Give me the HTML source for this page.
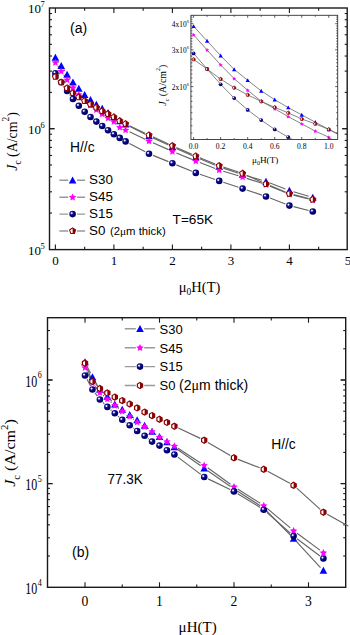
<!DOCTYPE html>
<html><head><meta charset="utf-8"><style>html,body{margin:0;padding:0;background:#fff;overflow:hidden}svg{display:block}text{fill:#000}</style></head>
<body>
<svg width="350" height="635" viewBox="0 0 350 635">
<defs><radialGradient id="sph" cx="0.36" cy="0.36" r="0.7" fx="0.36" fy="0.36"><stop offset="0" stop-color="#ffffff"/><stop offset="0.12" stop-color="#e0e0f4"/><stop offset="0.3" stop-color="#1a1a90"/><stop offset="0.6" stop-color="#000080"/><stop offset="1" stop-color="#000050"/></radialGradient></defs>
<rect width="350" height="635" fill="#fff"/>
<line x1="55.40" y1="249.60" x2="55.40" y2="244.60" stroke="#1a1a1a" stroke-width="1.1"/>
<line x1="55.40" y1="8.00" x2="55.40" y2="13.00" stroke="#1a1a1a" stroke-width="1.1"/>
<line x1="84.65" y1="249.60" x2="84.65" y2="246.80" stroke="#1a1a1a" stroke-width="1.1"/>
<line x1="84.65" y1="8.00" x2="84.65" y2="10.80" stroke="#1a1a1a" stroke-width="1.1"/>
<line x1="113.90" y1="249.60" x2="113.90" y2="244.60" stroke="#1a1a1a" stroke-width="1.1"/>
<line x1="113.90" y1="8.00" x2="113.90" y2="13.00" stroke="#1a1a1a" stroke-width="1.1"/>
<line x1="143.15" y1="249.60" x2="143.15" y2="246.80" stroke="#1a1a1a" stroke-width="1.1"/>
<line x1="143.15" y1="8.00" x2="143.15" y2="10.80" stroke="#1a1a1a" stroke-width="1.1"/>
<line x1="172.40" y1="249.60" x2="172.40" y2="244.60" stroke="#1a1a1a" stroke-width="1.1"/>
<line x1="172.40" y1="8.00" x2="172.40" y2="13.00" stroke="#1a1a1a" stroke-width="1.1"/>
<line x1="201.65" y1="249.60" x2="201.65" y2="246.80" stroke="#1a1a1a" stroke-width="1.1"/>
<line x1="201.65" y1="8.00" x2="201.65" y2="10.80" stroke="#1a1a1a" stroke-width="1.1"/>
<line x1="230.90" y1="249.60" x2="230.90" y2="244.60" stroke="#1a1a1a" stroke-width="1.1"/>
<line x1="230.90" y1="8.00" x2="230.90" y2="13.00" stroke="#1a1a1a" stroke-width="1.1"/>
<line x1="260.15" y1="249.60" x2="260.15" y2="246.80" stroke="#1a1a1a" stroke-width="1.1"/>
<line x1="260.15" y1="8.00" x2="260.15" y2="10.80" stroke="#1a1a1a" stroke-width="1.1"/>
<line x1="289.40" y1="249.60" x2="289.40" y2="244.60" stroke="#1a1a1a" stroke-width="1.1"/>
<line x1="289.40" y1="8.00" x2="289.40" y2="13.00" stroke="#1a1a1a" stroke-width="1.1"/>
<line x1="318.65" y1="249.60" x2="318.65" y2="246.80" stroke="#1a1a1a" stroke-width="1.1"/>
<line x1="318.65" y1="8.00" x2="318.65" y2="10.80" stroke="#1a1a1a" stroke-width="1.1"/>
<line x1="49.50" y1="213.07" x2="52.00" y2="213.07" stroke="#1a1a1a" stroke-width="1.1"/>
<line x1="347.20" y1="213.07" x2="344.70" y2="213.07" stroke="#1a1a1a" stroke-width="1.1"/>
<line x1="49.50" y1="191.81" x2="52.00" y2="191.81" stroke="#1a1a1a" stroke-width="1.1"/>
<line x1="347.20" y1="191.81" x2="344.70" y2="191.81" stroke="#1a1a1a" stroke-width="1.1"/>
<line x1="49.50" y1="176.73" x2="52.00" y2="176.73" stroke="#1a1a1a" stroke-width="1.1"/>
<line x1="347.20" y1="176.73" x2="344.70" y2="176.73" stroke="#1a1a1a" stroke-width="1.1"/>
<line x1="49.50" y1="165.03" x2="52.00" y2="165.03" stroke="#1a1a1a" stroke-width="1.1"/>
<line x1="347.20" y1="165.03" x2="344.70" y2="165.03" stroke="#1a1a1a" stroke-width="1.1"/>
<line x1="49.50" y1="155.48" x2="52.00" y2="155.48" stroke="#1a1a1a" stroke-width="1.1"/>
<line x1="347.20" y1="155.48" x2="344.70" y2="155.48" stroke="#1a1a1a" stroke-width="1.1"/>
<line x1="49.50" y1="147.40" x2="52.00" y2="147.40" stroke="#1a1a1a" stroke-width="1.1"/>
<line x1="347.20" y1="147.40" x2="344.70" y2="147.40" stroke="#1a1a1a" stroke-width="1.1"/>
<line x1="49.50" y1="140.40" x2="52.00" y2="140.40" stroke="#1a1a1a" stroke-width="1.1"/>
<line x1="347.20" y1="140.40" x2="344.70" y2="140.40" stroke="#1a1a1a" stroke-width="1.1"/>
<line x1="49.50" y1="134.22" x2="52.00" y2="134.22" stroke="#1a1a1a" stroke-width="1.1"/>
<line x1="347.20" y1="134.22" x2="344.70" y2="134.22" stroke="#1a1a1a" stroke-width="1.1"/>
<line x1="49.50" y1="128.70" x2="54.50" y2="128.70" stroke="#1a1a1a" stroke-width="1.1"/>
<line x1="347.20" y1="128.70" x2="342.20" y2="128.70" stroke="#1a1a1a" stroke-width="1.1"/>
<line x1="49.50" y1="128.70" x2="54.50" y2="128.70" stroke="#1a1a1a" stroke-width="1.1"/>
<line x1="347.20" y1="128.70" x2="342.20" y2="128.70" stroke="#1a1a1a" stroke-width="1.1"/>
<line x1="49.50" y1="92.37" x2="52.00" y2="92.37" stroke="#1a1a1a" stroke-width="1.1"/>
<line x1="347.20" y1="92.37" x2="344.70" y2="92.37" stroke="#1a1a1a" stroke-width="1.1"/>
<line x1="49.50" y1="71.11" x2="52.00" y2="71.11" stroke="#1a1a1a" stroke-width="1.1"/>
<line x1="347.20" y1="71.11" x2="344.70" y2="71.11" stroke="#1a1a1a" stroke-width="1.1"/>
<line x1="49.50" y1="56.03" x2="52.00" y2="56.03" stroke="#1a1a1a" stroke-width="1.1"/>
<line x1="347.20" y1="56.03" x2="344.70" y2="56.03" stroke="#1a1a1a" stroke-width="1.1"/>
<line x1="49.50" y1="44.33" x2="52.00" y2="44.33" stroke="#1a1a1a" stroke-width="1.1"/>
<line x1="347.20" y1="44.33" x2="344.70" y2="44.33" stroke="#1a1a1a" stroke-width="1.1"/>
<line x1="49.50" y1="34.78" x2="52.00" y2="34.78" stroke="#1a1a1a" stroke-width="1.1"/>
<line x1="347.20" y1="34.78" x2="344.70" y2="34.78" stroke="#1a1a1a" stroke-width="1.1"/>
<line x1="49.50" y1="26.70" x2="52.00" y2="26.70" stroke="#1a1a1a" stroke-width="1.1"/>
<line x1="347.20" y1="26.70" x2="344.70" y2="26.70" stroke="#1a1a1a" stroke-width="1.1"/>
<line x1="49.50" y1="19.70" x2="52.00" y2="19.70" stroke="#1a1a1a" stroke-width="1.1"/>
<line x1="347.20" y1="19.70" x2="344.70" y2="19.70" stroke="#1a1a1a" stroke-width="1.1"/>
<line x1="49.50" y1="13.52" x2="52.00" y2="13.52" stroke="#1a1a1a" stroke-width="1.1"/>
<line x1="347.20" y1="13.52" x2="344.70" y2="13.52" stroke="#1a1a1a" stroke-width="1.1"/>
<rect x="49.5" y="8.0" width="297.7" height="241.6" fill="none" stroke="#1a1a1a" stroke-width="1.4"/>
<text x="55.4" y="265.4" font-family='"Liberation Serif", serif' font-size="13" text-anchor="middle" >0</text>
<text x="113.9" y="265.4" font-family='"Liberation Serif", serif' font-size="13" text-anchor="middle" >1</text>
<text x="172.4" y="265.4" font-family='"Liberation Serif", serif' font-size="13" text-anchor="middle" >2</text>
<text x="230.9" y="265.4" font-family='"Liberation Serif", serif' font-size="13" text-anchor="middle" >3</text>
<text x="289.4" y="265.4" font-family='"Liberation Serif", serif' font-size="13" text-anchor="middle" >4</text>
<text x="347.9" y="265.4" font-family='"Liberation Serif", serif' font-size="13" text-anchor="middle" >5</text>
<text x="28.0" y="13" font-family='"Liberation Serif", serif' font-size="13" text-anchor="start" >10</text>
<text x="40.6" y="6.7" font-family='"Liberation Serif", serif' font-size="8.5" text-anchor="start" >7</text>
<text x="28.0" y="133.9" font-family='"Liberation Serif", serif' font-size="13" text-anchor="start" >10</text>
<text x="40.6" y="127.60000000000001" font-family='"Liberation Serif", serif' font-size="8.5" text-anchor="start" >6</text>
<text x="28.0" y="254.9" font-family='"Liberation Serif", serif' font-size="13" text-anchor="start" >10</text>
<text x="40.6" y="248.6" font-family='"Liberation Serif", serif' font-size="8.5" text-anchor="start" >5</text>
<text transform="translate(16.5,170.8) rotate(-90) scale(0.93,1)" font-family='"Liberation Serif", serif' font-size="15"><tspan font-style="italic">J</tspan><tspan font-size="10" dy="4.6">c</tspan><tspan dy="-4.6"> (A/cm</tspan><tspan font-size="10" dy="-7.3">2</tspan><tspan dy="7.3">)</tspan></text>
<text x="178.8" y="291.8" font-family='"Liberation Serif", serif' font-size="14.5">μ<tspan font-size="9.5" dy="3">0</tspan><tspan dy="-3">H(T)</tspan></text>
<text x="70" y="33.3" font-family='"Liberation Sans", sans-serif' font-size="14" text-anchor="start" >(a)</text>
<text x="70" y="151.7" font-family='"Liberation Sans", sans-serif' font-size="13.8" text-anchor="start" >H//c</text>
<text x="172.6" y="223.6" font-family='"Liberation Sans", sans-serif' font-size="13.6" text-anchor="start" >T=65K</text>
<g>
<path d="M57.85,61.07L58.80,62.43M63.68,69.51L64.67,70.96M69.66,77.97L70.39,78.97M129.43,126.25L145.17,134.25M152.92,137.97L168.48,145.03M176.33,148.55L191.87,155.45M199.78,158.83L215.22,165.17M223.28,168.16L238.52,173.24M246.72,175.82L261.88,180.28M270.01,183.04L285.39,188.96M293.52,191.73L308.68,196.27" fill="none" stroke="#666" stroke-width="1.15"/>
<path d="M57.80,66.07L58.85,67.65M63.67,74.78L64.68,76.27M69.66,83.28L70.39,84.28M129.49,131.83L145.11,139.17M152.93,142.75L168.47,149.65M176.38,153.03L191.82,159.37M199.81,162.54L215.19,168.46M223.32,171.23L238.48,175.77M246.69,178.33L261.91,183.27M269.98,186.23L285.42,192.57M293.57,195.25L308.63,199.05" fill="none" stroke="#666" stroke-width="1.15"/>
<path d="M57.74,76.79L58.91,78.59M63.62,85.78L64.73,87.44M69.64,94.49L70.41,95.53M129.40,143.41L145.20,151.79M152.99,155.40L168.41,161.60M176.37,164.85L191.83,171.25M199.87,174.29L215.13,179.51M223.28,182.24L238.52,187.26M246.67,189.98L261.93,195.12M270.01,198.06L285.39,204.04M293.57,206.65L308.63,210.45" fill="none" stroke="#666" stroke-width="1.15"/>
<path d="M129.47,125.67L145.13,133.23M152.92,136.87L168.48,143.93M176.33,147.45L191.87,154.35M199.78,157.73L215.22,164.07M223.28,167.04L238.52,172.06M246.52,175.17L262.08,182.23M269.98,185.63L285.42,191.97M293.57,194.65L308.63,198.45" fill="none" stroke="#666" stroke-width="1.15"/>
<path d="M55.40,53.69L59.20,60.68L51.60,60.68Z" fill="#0000ff"/>
<path d="M61.25,62.12L65.05,69.11L57.45,69.11Z" fill="#0000ff"/>
<path d="M67.10,70.67L70.90,77.66L63.30,77.66Z" fill="#0000ff"/>
<path d="M72.95,78.58L76.75,85.57L69.15,85.57Z" fill="#0000ff"/>
<path d="M78.80,84.87L82.60,91.86L75.00,91.86Z" fill="#0000ff"/>
<path d="M84.65,90.99L88.45,97.99L80.85,97.99Z" fill="#0000ff"/>
<path d="M90.50,96.08L94.30,103.07L86.70,103.07Z" fill="#0000ff"/>
<path d="M96.35,100.64L100.15,107.63L92.55,107.63Z" fill="#0000ff"/>
<path d="M102.20,104.85L106.00,111.85L98.40,111.85Z" fill="#0000ff"/>
<path d="M108.05,109.07L111.85,116.06L104.25,116.06Z" fill="#0000ff"/>
<path d="M113.90,113.23L117.70,120.22L110.10,120.22Z" fill="#0000ff"/>
<path d="M119.75,117.35L123.55,124.35L115.95,124.35Z" fill="#0000ff"/>
<path d="M125.60,120.45L129.40,127.45L121.80,127.45Z" fill="#0000ff"/>
<path d="M149.00,132.35L152.80,139.35L145.20,139.35Z" fill="#0000ff"/>
<path d="M172.40,142.95L176.20,149.95L168.60,149.95Z" fill="#0000ff"/>
<path d="M195.80,153.35L199.60,160.35L192.00,160.35Z" fill="#0000ff"/>
<path d="M219.20,162.95L223.00,169.95L215.40,169.95Z" fill="#0000ff"/>
<path d="M242.60,170.75L246.40,177.75L238.80,177.75Z" fill="#0000ff"/>
<path d="M266.00,177.65L269.80,184.65L262.20,184.65Z" fill="#0000ff"/>
<path d="M289.40,186.65L293.20,193.65L285.60,193.65Z" fill="#0000ff"/>
<path d="M312.80,193.65L316.60,200.65L309.00,200.65Z" fill="#0000ff"/>
<polygon points="55.40,58.75 56.50,61.14 59.11,61.44 57.18,63.23 57.69,65.80 55.40,64.52 53.11,65.80 53.62,63.23 51.69,61.44 54.30,61.14" fill="#ff00ff"/>
<polygon points="61.25,67.47 62.35,69.86 64.96,70.16 63.03,71.95 63.54,74.53 61.25,73.24 58.96,74.53 59.47,71.95 57.54,70.16 60.15,69.86" fill="#ff00ff"/>
<polygon points="67.10,76.07 68.20,78.46 70.81,78.77 68.88,80.55 69.39,83.13 67.10,81.85 64.81,83.13 65.32,80.55 63.39,78.77 66.00,78.46" fill="#ff00ff"/>
<polygon points="72.95,83.99 74.05,86.37 76.66,86.68 74.73,88.47 75.24,91.04 72.95,89.76 70.66,91.04 71.17,88.47 69.24,86.68 71.85,86.37" fill="#ff00ff"/>
<polygon points="78.80,90.74 79.90,93.13 82.51,93.44 80.58,95.22 81.09,97.80 78.80,96.52 76.51,97.80 77.02,95.22 75.09,93.44 77.70,93.13" fill="#ff00ff"/>
<polygon points="84.65,97.04 85.75,99.42 88.36,99.73 86.43,101.52 86.94,104.09 84.65,102.81 82.36,104.09 82.87,101.52 80.94,99.73 83.55,99.42" fill="#ff00ff"/>
<polygon points="90.50,101.43 91.60,103.81 94.21,104.12 92.28,105.91 92.79,108.48 90.50,107.20 88.21,108.48 88.72,105.91 86.79,104.12 89.40,103.81" fill="#ff00ff"/>
<polygon points="96.35,105.93 97.45,108.32 100.06,108.63 98.13,110.41 98.64,112.99 96.35,111.70 94.06,112.99 94.57,110.41 92.64,108.63 95.25,108.32" fill="#ff00ff"/>
<polygon points="102.20,110.15 103.30,112.53 105.91,112.84 103.98,114.63 104.49,117.20 102.20,115.92 99.91,117.20 100.42,114.63 98.49,112.84 101.10,112.53" fill="#ff00ff"/>
<polygon points="108.05,114.31 109.15,116.69 111.76,117.00 109.83,118.78 110.34,121.36 108.05,120.08 105.76,121.36 106.27,118.78 104.34,117.00 106.95,116.69" fill="#ff00ff"/>
<polygon points="113.90,117.83 115.00,120.21 117.61,120.52 115.68,122.31 116.19,124.88 113.90,123.60 111.61,124.88 112.12,122.31 110.19,120.52 112.80,120.21" fill="#ff00ff"/>
<polygon points="119.75,123.55 120.85,125.94 123.46,126.24 121.53,128.03 122.04,130.61 119.75,129.32 117.46,130.61 117.97,128.03 116.04,126.24 118.65,125.94" fill="#ff00ff"/>
<polygon points="125.60,126.25 126.70,128.64 129.31,128.94 127.38,130.73 127.89,133.31 125.60,132.02 123.31,133.31 123.82,130.73 121.89,128.94 124.50,128.64" fill="#ff00ff"/>
<polygon points="149.00,137.25 150.10,139.64 152.71,139.94 150.78,141.73 151.29,144.31 149.00,143.02 146.71,144.31 147.22,141.73 145.29,139.94 147.90,139.64" fill="#ff00ff"/>
<polygon points="172.40,147.65 173.50,150.04 176.11,150.34 174.18,152.13 174.69,154.71 172.40,153.42 170.11,154.71 170.62,152.13 168.69,150.34 171.30,150.04" fill="#ff00ff"/>
<polygon points="195.80,157.25 196.90,159.64 199.51,159.94 197.58,161.73 198.09,164.31 195.80,163.02 193.51,164.31 194.02,161.73 192.09,159.94 194.70,159.64" fill="#ff00ff"/>
<polygon points="219.20,166.25 220.30,168.64 222.91,168.94 220.98,170.73 221.49,173.31 219.20,172.02 216.91,173.31 217.42,170.73 215.49,168.94 218.10,168.64" fill="#ff00ff"/>
<polygon points="242.60,173.25 243.70,175.64 246.31,175.94 244.38,177.73 244.89,180.31 242.60,179.02 240.31,180.31 240.82,177.73 238.89,175.94 241.50,175.64" fill="#ff00ff"/>
<polygon points="266.00,180.85 267.10,183.24 269.71,183.54 267.78,185.33 268.29,187.91 266.00,186.62 263.71,187.91 264.22,185.33 262.29,183.54 264.90,183.24" fill="#ff00ff"/>
<polygon points="289.40,190.45 290.50,192.84 293.11,193.14 291.18,194.93 291.69,197.51 289.40,196.22 287.11,197.51 287.62,194.93 285.69,193.14 288.30,192.84" fill="#ff00ff"/>
<polygon points="312.80,196.35 313.90,198.74 316.51,199.04 314.58,200.83 315.09,203.41 312.80,202.12 310.51,203.41 311.02,200.83 309.09,199.04 311.70,198.74" fill="#ff00ff"/>
<circle cx="55.40" cy="73.18" r="3.3" fill="url(#sph)"/>
<circle cx="61.25" cy="82.19" r="3.3" fill="url(#sph)"/>
<circle cx="67.10" cy="91.03" r="3.3" fill="url(#sph)"/>
<circle cx="72.95" cy="99.00" r="3.3" fill="url(#sph)"/>
<circle cx="78.80" cy="105.81" r="3.3" fill="url(#sph)"/>
<circle cx="84.65" cy="111.70" r="3.3" fill="url(#sph)"/>
<circle cx="90.50" cy="117.07" r="3.3" fill="url(#sph)"/>
<circle cx="96.35" cy="121.58" r="3.3" fill="url(#sph)"/>
<circle cx="102.20" cy="126.00" r="3.3" fill="url(#sph)"/>
<circle cx="108.05" cy="130.20" r="3.3" fill="url(#sph)"/>
<circle cx="113.90" cy="134.20" r="3.3" fill="url(#sph)"/>
<circle cx="119.75" cy="137.90" r="3.3" fill="url(#sph)"/>
<circle cx="125.60" cy="141.40" r="3.3" fill="url(#sph)"/>
<circle cx="149.00" cy="153.80" r="3.3" fill="url(#sph)"/>
<circle cx="172.40" cy="163.20" r="3.3" fill="url(#sph)"/>
<circle cx="195.80" cy="172.90" r="3.3" fill="url(#sph)"/>
<circle cx="219.20" cy="180.90" r="3.3" fill="url(#sph)"/>
<circle cx="242.60" cy="188.60" r="3.3" fill="url(#sph)"/>
<circle cx="266.00" cy="196.50" r="3.3" fill="url(#sph)"/>
<circle cx="289.40" cy="205.60" r="3.3" fill="url(#sph)"/>
<circle cx="312.80" cy="211.50" r="3.3" fill="url(#sph)"/>
<polygon points="55.40,73.50 58.40,75.68 57.25,79.20 53.55,79.20 52.40,75.68" fill="#fff" stroke="#8b0000" stroke-width="1.05"/><polygon points="55.40,73.50 58.40,75.68 57.25,79.20 55.40,79.20" fill="#8b0000"/>
<polygon points="61.25,79.10 64.25,81.28 63.10,84.80 59.40,84.80 58.25,81.28" fill="#fff" stroke="#8b0000" stroke-width="1.05"/><polygon points="61.25,79.10 64.25,81.28 63.10,84.80 61.25,84.80" fill="#8b0000"/>
<polygon points="67.10,84.88 70.10,87.05 68.95,90.57 65.25,90.57 64.10,87.05" fill="#fff" stroke="#8b0000" stroke-width="1.05"/><polygon points="67.10,84.88 70.10,87.05 68.95,90.57 67.10,90.57" fill="#8b0000"/>
<polygon points="72.95,89.84 75.95,92.02 74.80,95.54 71.10,95.54 69.95,92.02" fill="#fff" stroke="#8b0000" stroke-width="1.05"/><polygon points="72.95,89.84 75.95,92.02 74.80,95.54 72.95,95.54" fill="#8b0000"/>
<polygon points="78.80,94.00 81.80,96.18 80.65,99.70 76.95,99.70 75.80,96.18" fill="#fff" stroke="#8b0000" stroke-width="1.05"/><polygon points="78.80,94.00 81.80,96.18 80.65,99.70 78.80,99.70" fill="#8b0000"/>
<polygon points="84.65,97.75 87.65,99.93 86.50,103.45 82.80,103.45 81.65,99.93" fill="#fff" stroke="#8b0000" stroke-width="1.05"/><polygon points="84.65,97.75 87.65,99.93 86.50,103.45 84.65,103.45" fill="#8b0000"/>
<polygon points="90.50,101.16 93.50,103.34 92.35,106.86 88.65,106.86 87.50,103.34" fill="#fff" stroke="#8b0000" stroke-width="1.05"/><polygon points="90.50,101.16 93.50,103.34 92.35,106.86 90.50,106.86" fill="#8b0000"/>
<polygon points="96.35,104.40 99.35,106.57 98.20,110.09 94.50,110.09 93.35,106.57" fill="#fff" stroke="#8b0000" stroke-width="1.05"/><polygon points="96.35,104.40 99.35,106.57 98.20,110.09 96.35,110.09" fill="#8b0000"/>
<polygon points="102.20,107.92 105.20,110.09 104.05,113.62 100.35,113.62 99.20,110.09" fill="#fff" stroke="#8b0000" stroke-width="1.05"/><polygon points="102.20,107.92 105.20,110.09 104.05,113.62 102.20,113.62" fill="#8b0000"/>
<polygon points="108.05,110.75 111.05,112.92 109.90,116.45 106.20,116.45 105.05,112.92" fill="#fff" stroke="#8b0000" stroke-width="1.05"/><polygon points="108.05,110.75 111.05,112.92 109.90,116.45 108.05,116.45" fill="#8b0000"/>
<polygon points="113.90,113.92 116.90,116.10 115.75,119.62 112.05,119.62 110.90,116.10" fill="#fff" stroke="#8b0000" stroke-width="1.05"/><polygon points="113.90,113.92 116.90,116.10 115.75,119.62 113.90,119.62" fill="#8b0000"/>
<polygon points="119.75,117.75 122.75,119.93 121.60,123.45 117.90,123.45 116.75,119.93" fill="#fff" stroke="#8b0000" stroke-width="1.05"/><polygon points="119.75,117.75 122.75,119.93 121.60,123.45 119.75,123.45" fill="#8b0000"/>
<polygon points="125.60,120.65 128.60,122.83 127.45,126.35 123.75,126.35 122.60,122.83" fill="#fff" stroke="#8b0000" stroke-width="1.05"/><polygon points="125.60,120.65 128.60,122.83 127.45,126.35 125.60,126.35" fill="#8b0000"/>
<polygon points="149.00,131.95 152.00,134.13 150.85,137.65 147.15,137.65 146.00,134.13" fill="#fff" stroke="#8b0000" stroke-width="1.05"/><polygon points="149.00,131.95 152.00,134.13 150.85,137.65 149.00,137.65" fill="#8b0000"/>
<polygon points="172.40,142.55 175.40,144.73 174.25,148.25 170.55,148.25 169.40,144.73" fill="#fff" stroke="#8b0000" stroke-width="1.05"/><polygon points="172.40,142.55 175.40,144.73 174.25,148.25 172.40,148.25" fill="#8b0000"/>
<polygon points="195.80,152.95 198.80,155.13 197.65,158.65 193.95,158.65 192.80,155.13" fill="#fff" stroke="#8b0000" stroke-width="1.05"/><polygon points="195.80,152.95 198.80,155.13 197.65,158.65 195.80,158.65" fill="#8b0000"/>
<polygon points="219.20,162.55 222.20,164.73 221.05,168.25 217.35,168.25 216.20,164.73" fill="#fff" stroke="#8b0000" stroke-width="1.05"/><polygon points="219.20,162.55 222.20,164.73 221.05,168.25 219.20,168.25" fill="#8b0000"/>
<polygon points="242.60,170.25 245.60,172.43 244.45,175.95 240.75,175.95 239.60,172.43" fill="#fff" stroke="#8b0000" stroke-width="1.05"/><polygon points="242.60,170.25 245.60,172.43 244.45,175.95 242.60,175.95" fill="#8b0000"/>
<polygon points="266.00,180.85 269.00,183.03 267.85,186.55 264.15,186.55 263.00,183.03" fill="#fff" stroke="#8b0000" stroke-width="1.05"/><polygon points="266.00,180.85 269.00,183.03 267.85,186.55 266.00,186.55" fill="#8b0000"/>
<polygon points="289.40,190.45 292.40,192.63 291.25,196.15 287.55,196.15 286.40,192.63" fill="#fff" stroke="#8b0000" stroke-width="1.05"/><polygon points="289.40,190.45 292.40,192.63 291.25,196.15 289.40,196.15" fill="#8b0000"/>
<polygon points="312.80,196.35 315.80,198.53 314.65,202.05 310.95,202.05 309.80,198.53" fill="#fff" stroke="#8b0000" stroke-width="1.05"/><polygon points="312.80,196.35 315.80,198.53 314.65,202.05 312.80,202.05" fill="#8b0000"/>
</g>
<path d="M59.4,180.30H68.2M77.0,180.30H85.1" stroke="#999" stroke-width="1.4"/>
<path d="M72.60,176.45L76.40,183.45L68.80,183.45Z" fill="#0000ff"/>
<text x="89" y="183.8" font-family='"Liberation Sans", sans-serif' font-size="13.4" text-anchor="start" >S30</text>
<path d="M59.4,197.20H68.2M77.0,197.20H85.1" stroke="#999" stroke-width="1.4"/>
<polygon points="72.60,193.45 73.70,195.84 76.31,196.14 74.38,197.93 74.89,200.51 72.60,199.22 70.31,200.51 70.82,197.93 68.89,196.14 71.50,195.84" fill="#ff00ff"/>
<text x="89" y="200.70000000000002" font-family='"Liberation Sans", sans-serif' font-size="13.4" text-anchor="start" >S45</text>
<path d="M59.4,214.10H68.2M77.0,214.10H85.1" stroke="#999" stroke-width="1.4"/>
<circle cx="72.60" cy="214.10" r="3.3" fill="url(#sph)"/>
<text x="89" y="217.60000000000002" font-family='"Liberation Sans", sans-serif' font-size="13.4" text-anchor="start" >S15</text>
<path d="M59.4,231.00H68.2M77.0,231.00H85.1" stroke="#999" stroke-width="1.4"/>
<polygon points="72.60,227.85 75.60,230.03 74.45,233.55 70.75,233.55 69.60,230.03" fill="#fff" stroke="#8b0000" stroke-width="1.05"/><polygon points="72.60,227.85 75.60,230.03 74.45,233.55 72.60,233.55" fill="#8b0000"/>
<text x="89" y="234.5" font-family='"Liberation Sans", sans-serif' font-size="13.4" text-anchor="start" >S0</text>
<text x="110" y="234.6" font-family='"Liberation Sans", sans-serif' font-size="11.3" text-anchor="start" >(2<tspan font-family="Liberation Serif, serif">μ</tspan>m thick)</text>
<rect x="190.9" y="15.3" width="146.79999999999998" height="124.2" fill="#fff"/>
<clipPath id="inclip"><rect x="190.9" y="15.3" width="146.79999999999998" height="124.2"/></clipPath>
<g clip-path="url(#inclip)">
<polyline points="193.60,26.30 207.12,40.90 220.64,55.70 234.16,69.40 247.68,80.30 261.20,90.90 274.72,99.70 288.24,107.60 301.76,114.90 315.28,122.20 328.80,129.40 342.32,136.54 355.84,141.91" fill="none" stroke="#666" stroke-width="0.8"/>
<polyline points="193.60,34.90 207.12,50.00 220.64,64.90 234.16,78.60 247.68,90.30 261.20,101.20 274.72,108.80 288.24,116.60 301.76,123.90 315.28,131.10 328.80,137.20 342.32,147.11 355.84,151.78" fill="none" stroke="#666" stroke-width="0.8"/>
<polyline points="193.60,53.40 207.12,69.00 220.64,84.30 234.16,98.10 247.68,109.90 261.20,120.10 274.72,129.40 288.24,137.20 301.76,144.86 315.28,152.13 328.80,159.05 342.32,165.46 355.84,171.52" fill="none" stroke="#666" stroke-width="0.8"/>
<polyline points="193.60,59.40 207.12,69.10 220.64,79.10 234.16,87.70 247.68,94.90 261.20,101.40 274.72,107.30 288.24,112.90 301.76,119.00 315.28,123.90 328.80,129.40 342.32,136.02 355.84,141.05" fill="none" stroke="#666" stroke-width="0.8"/>
<path d="M193.60,24.17L195.70,28.04L191.50,28.04Z" fill="#0000ff"/>
<path d="M207.12,38.77L209.22,42.64L205.02,42.64Z" fill="#0000ff"/>
<path d="M220.64,53.57L222.74,57.44L218.54,57.44Z" fill="#0000ff"/>
<path d="M234.16,67.27L236.26,71.14L232.06,71.14Z" fill="#0000ff"/>
<path d="M247.68,78.17L249.78,82.04L245.58,82.04Z" fill="#0000ff"/>
<path d="M261.20,88.77L263.30,92.64L259.10,92.64Z" fill="#0000ff"/>
<path d="M274.72,97.57L276.82,101.44L272.62,101.44Z" fill="#0000ff"/>
<path d="M288.24,105.47L290.34,109.34L286.14,109.34Z" fill="#0000ff"/>
<path d="M301.76,112.77L303.86,116.64L299.66,116.64Z" fill="#0000ff"/>
<path d="M315.28,120.07L317.38,123.94L313.18,123.94Z" fill="#0000ff"/>
<path d="M328.80,127.27L330.90,131.14L326.70,131.14Z" fill="#0000ff"/>
<polygon points="193.60,32.85 194.22,34.20 195.69,34.37 194.60,35.38 194.89,36.83 193.60,36.11 192.31,36.83 192.60,35.38 191.51,34.37 192.98,34.20" fill="#ff00ff"/>
<polygon points="207.12,47.95 207.74,49.30 209.21,49.47 208.12,50.48 208.41,51.93 207.12,51.21 205.83,51.93 206.12,50.48 205.03,49.47 206.50,49.30" fill="#ff00ff"/>
<polygon points="220.64,62.85 221.26,64.20 222.73,64.37 221.64,65.38 221.93,66.83 220.64,66.11 219.35,66.83 219.64,65.38 218.55,64.37 220.02,64.20" fill="#ff00ff"/>
<polygon points="234.16,76.55 234.78,77.90 236.25,78.07 235.16,79.08 235.45,80.53 234.16,79.81 232.87,80.53 233.16,79.08 232.07,78.07 233.54,77.90" fill="#ff00ff"/>
<polygon points="247.68,88.25 248.30,89.60 249.77,89.77 248.68,90.78 248.97,92.23 247.68,91.51 246.39,92.23 246.68,90.78 245.59,89.77 247.06,89.60" fill="#ff00ff"/>
<polygon points="261.20,99.15 261.82,100.50 263.29,100.67 262.20,101.68 262.49,103.13 261.20,102.41 259.91,103.13 260.20,101.68 259.11,100.67 260.58,100.50" fill="#ff00ff"/>
<polygon points="274.72,106.75 275.34,108.10 276.81,108.27 275.72,109.28 276.01,110.73 274.72,110.01 273.43,110.73 273.72,109.28 272.63,108.27 274.10,108.10" fill="#ff00ff"/>
<polygon points="288.24,114.55 288.86,115.90 290.33,116.07 289.24,117.08 289.53,118.53 288.24,117.81 286.95,118.53 287.24,117.08 286.15,116.07 287.62,115.90" fill="#ff00ff"/>
<polygon points="301.76,121.85 302.38,123.20 303.85,123.37 302.76,124.38 303.05,125.83 301.76,125.11 300.47,125.83 300.76,124.38 299.67,123.37 301.14,123.20" fill="#ff00ff"/>
<polygon points="315.28,129.05 315.90,130.40 317.37,130.57 316.28,131.58 316.57,133.03 315.28,132.31 313.99,133.03 314.28,131.58 313.19,130.57 314.66,130.40" fill="#ff00ff"/>
<polygon points="328.80,135.15 329.42,136.50 330.89,136.67 329.80,137.68 330.09,139.13 328.80,138.41 327.51,139.13 327.80,137.68 326.71,136.67 328.18,136.50" fill="#ff00ff"/>
<circle cx="193.60" cy="53.40" r="1.9" fill="url(#sph)"/>
<circle cx="207.12" cy="69.00" r="1.9" fill="url(#sph)"/>
<circle cx="220.64" cy="84.30" r="1.9" fill="url(#sph)"/>
<circle cx="234.16" cy="98.10" r="1.9" fill="url(#sph)"/>
<circle cx="247.68" cy="109.90" r="1.9" fill="url(#sph)"/>
<circle cx="261.20" cy="120.10" r="1.9" fill="url(#sph)"/>
<circle cx="274.72" cy="129.40" r="1.9" fill="url(#sph)"/>
<circle cx="288.24" cy="137.20" r="1.9" fill="url(#sph)"/>
<polygon points="193.60,57.60 195.31,58.84 194.66,60.86 192.54,60.86 191.89,58.84" fill="#fff" stroke="#8b0000" stroke-width="0.8"/><polygon points="193.60,57.60 195.31,58.84 194.66,60.86 193.60,60.86" fill="#8b0000"/>
<polygon points="207.12,67.30 208.83,68.54 208.18,70.56 206.06,70.56 205.41,68.54" fill="#fff" stroke="#8b0000" stroke-width="0.8"/><polygon points="207.12,67.30 208.83,68.54 208.18,70.56 207.12,70.56" fill="#8b0000"/>
<polygon points="220.64,77.30 222.35,78.54 221.70,80.56 219.58,80.56 218.93,78.54" fill="#fff" stroke="#8b0000" stroke-width="0.8"/><polygon points="220.64,77.30 222.35,78.54 221.70,80.56 220.64,80.56" fill="#8b0000"/>
<polygon points="234.16,85.90 235.87,87.14 235.22,89.16 233.10,89.16 232.45,87.14" fill="#fff" stroke="#8b0000" stroke-width="0.8"/><polygon points="234.16,85.90 235.87,87.14 235.22,89.16 234.16,89.16" fill="#8b0000"/>
<polygon points="247.68,93.10 249.39,94.34 248.74,96.36 246.62,96.36 245.97,94.34" fill="#fff" stroke="#8b0000" stroke-width="0.8"/><polygon points="247.68,93.10 249.39,94.34 248.74,96.36 247.68,96.36" fill="#8b0000"/>
<polygon points="261.20,99.60 262.91,100.84 262.26,102.86 260.14,102.86 259.49,100.84" fill="#fff" stroke="#8b0000" stroke-width="0.8"/><polygon points="261.20,99.60 262.91,100.84 262.26,102.86 261.20,102.86" fill="#8b0000"/>
<polygon points="274.72,105.50 276.43,106.74 275.78,108.76 273.66,108.76 273.01,106.74" fill="#fff" stroke="#8b0000" stroke-width="0.8"/><polygon points="274.72,105.50 276.43,106.74 275.78,108.76 274.72,108.76" fill="#8b0000"/>
<polygon points="288.24,111.10 289.95,112.34 289.30,114.36 287.18,114.36 286.53,112.34" fill="#fff" stroke="#8b0000" stroke-width="0.8"/><polygon points="288.24,111.10 289.95,112.34 289.30,114.36 288.24,114.36" fill="#8b0000"/>
<polygon points="301.76,117.20 303.47,118.44 302.82,120.46 300.70,120.46 300.05,118.44" fill="#fff" stroke="#8b0000" stroke-width="0.8"/><polygon points="301.76,117.20 303.47,118.44 302.82,120.46 301.76,120.46" fill="#8b0000"/>
<polygon points="315.28,122.10 316.99,123.34 316.34,125.36 314.22,125.36 313.57,123.34" fill="#fff" stroke="#8b0000" stroke-width="0.8"/><polygon points="315.28,122.10 316.99,123.34 316.34,125.36 315.28,125.36" fill="#8b0000"/>
<polygon points="328.80,127.60 330.51,128.84 329.86,130.86 327.74,130.86 327.09,128.84" fill="#fff" stroke="#8b0000" stroke-width="0.8"/><polygon points="328.80,127.60 330.51,128.84 329.86,130.86 328.80,130.86" fill="#8b0000"/>
</g>
<line x1="193.60" y1="139.5" x2="193.60" y2="137.0" stroke="#333" stroke-width="0.8"/>
<line x1="193.60" y1="15.3" x2="193.60" y2="17.8" stroke="#333" stroke-width="0.8"/>
<line x1="207.12" y1="139.5" x2="207.12" y2="138.0" stroke="#333" stroke-width="0.8"/>
<line x1="207.12" y1="15.3" x2="207.12" y2="16.8" stroke="#333" stroke-width="0.8"/>
<line x1="220.64" y1="139.5" x2="220.64" y2="137.0" stroke="#333" stroke-width="0.8"/>
<line x1="220.64" y1="15.3" x2="220.64" y2="17.8" stroke="#333" stroke-width="0.8"/>
<line x1="234.16" y1="139.5" x2="234.16" y2="138.0" stroke="#333" stroke-width="0.8"/>
<line x1="234.16" y1="15.3" x2="234.16" y2="16.8" stroke="#333" stroke-width="0.8"/>
<line x1="247.68" y1="139.5" x2="247.68" y2="137.0" stroke="#333" stroke-width="0.8"/>
<line x1="247.68" y1="15.3" x2="247.68" y2="17.8" stroke="#333" stroke-width="0.8"/>
<line x1="261.20" y1="139.5" x2="261.20" y2="138.0" stroke="#333" stroke-width="0.8"/>
<line x1="261.20" y1="15.3" x2="261.20" y2="16.8" stroke="#333" stroke-width="0.8"/>
<line x1="274.72" y1="139.5" x2="274.72" y2="137.0" stroke="#333" stroke-width="0.8"/>
<line x1="274.72" y1="15.3" x2="274.72" y2="17.8" stroke="#333" stroke-width="0.8"/>
<line x1="288.24" y1="139.5" x2="288.24" y2="138.0" stroke="#333" stroke-width="0.8"/>
<line x1="288.24" y1="15.3" x2="288.24" y2="16.8" stroke="#333" stroke-width="0.8"/>
<line x1="301.76" y1="139.5" x2="301.76" y2="137.0" stroke="#333" stroke-width="0.8"/>
<line x1="301.76" y1="15.3" x2="301.76" y2="17.8" stroke="#333" stroke-width="0.8"/>
<line x1="315.28" y1="139.5" x2="315.28" y2="138.0" stroke="#333" stroke-width="0.8"/>
<line x1="315.28" y1="15.3" x2="315.28" y2="16.8" stroke="#333" stroke-width="0.8"/>
<line x1="328.80" y1="139.5" x2="328.80" y2="137.0" stroke="#333" stroke-width="0.8"/>
<line x1="328.80" y1="15.3" x2="328.80" y2="17.8" stroke="#333" stroke-width="0.8"/>
<line x1="190.9" y1="132.98" x2="192.4" y2="132.98" stroke="#333" stroke-width="0.8"/>
<line x1="337.7" y1="132.98" x2="336.2" y2="132.98" stroke="#333" stroke-width="0.8"/>
<line x1="190.9" y1="125.72" x2="192.4" y2="125.72" stroke="#333" stroke-width="0.8"/>
<line x1="337.7" y1="125.72" x2="336.2" y2="125.72" stroke="#333" stroke-width="0.8"/>
<line x1="190.9" y1="118.99" x2="192.4" y2="118.99" stroke="#333" stroke-width="0.8"/>
<line x1="337.7" y1="118.99" x2="336.2" y2="118.99" stroke="#333" stroke-width="0.8"/>
<line x1="190.9" y1="112.73" x2="192.4" y2="112.73" stroke="#333" stroke-width="0.8"/>
<line x1="337.7" y1="112.73" x2="336.2" y2="112.73" stroke="#333" stroke-width="0.8"/>
<line x1="190.9" y1="106.87" x2="192.4" y2="106.87" stroke="#333" stroke-width="0.8"/>
<line x1="337.7" y1="106.87" x2="336.2" y2="106.87" stroke="#333" stroke-width="0.8"/>
<line x1="190.9" y1="101.37" x2="192.4" y2="101.37" stroke="#333" stroke-width="0.8"/>
<line x1="337.7" y1="101.37" x2="336.2" y2="101.37" stroke="#333" stroke-width="0.8"/>
<line x1="190.9" y1="96.18" x2="192.4" y2="96.18" stroke="#333" stroke-width="0.8"/>
<line x1="337.7" y1="96.18" x2="336.2" y2="96.18" stroke="#333" stroke-width="0.8"/>
<line x1="190.9" y1="91.27" x2="192.4" y2="91.27" stroke="#333" stroke-width="0.8"/>
<line x1="337.7" y1="91.27" x2="336.2" y2="91.27" stroke="#333" stroke-width="0.8"/>
<line x1="190.9" y1="86.62" x2="193.4" y2="86.62" stroke="#333" stroke-width="0.8"/>
<line x1="337.7" y1="86.62" x2="335.2" y2="86.62" stroke="#333" stroke-width="0.8"/>
<line x1="190.9" y1="82.19" x2="192.4" y2="82.19" stroke="#333" stroke-width="0.8"/>
<line x1="337.7" y1="82.19" x2="336.2" y2="82.19" stroke="#333" stroke-width="0.8"/>
<line x1="190.9" y1="77.96" x2="192.4" y2="77.96" stroke="#333" stroke-width="0.8"/>
<line x1="337.7" y1="77.96" x2="336.2" y2="77.96" stroke="#333" stroke-width="0.8"/>
<line x1="190.9" y1="73.93" x2="192.4" y2="73.93" stroke="#333" stroke-width="0.8"/>
<line x1="337.7" y1="73.93" x2="336.2" y2="73.93" stroke="#333" stroke-width="0.8"/>
<line x1="190.9" y1="70.07" x2="192.4" y2="70.07" stroke="#333" stroke-width="0.8"/>
<line x1="337.7" y1="70.07" x2="336.2" y2="70.07" stroke="#333" stroke-width="0.8"/>
<line x1="190.9" y1="66.36" x2="192.4" y2="66.36" stroke="#333" stroke-width="0.8"/>
<line x1="337.7" y1="66.36" x2="336.2" y2="66.36" stroke="#333" stroke-width="0.8"/>
<line x1="190.9" y1="62.80" x2="192.4" y2="62.80" stroke="#333" stroke-width="0.8"/>
<line x1="337.7" y1="62.80" x2="336.2" y2="62.80" stroke="#333" stroke-width="0.8"/>
<line x1="190.9" y1="59.38" x2="192.4" y2="59.38" stroke="#333" stroke-width="0.8"/>
<line x1="337.7" y1="59.38" x2="336.2" y2="59.38" stroke="#333" stroke-width="0.8"/>
<line x1="190.9" y1="56.07" x2="192.4" y2="56.07" stroke="#333" stroke-width="0.8"/>
<line x1="337.7" y1="56.07" x2="336.2" y2="56.07" stroke="#333" stroke-width="0.8"/>
<line x1="190.9" y1="52.89" x2="192.4" y2="52.89" stroke="#333" stroke-width="0.8"/>
<line x1="337.7" y1="52.89" x2="336.2" y2="52.89" stroke="#333" stroke-width="0.8"/>
<line x1="190.9" y1="49.81" x2="193.4" y2="49.81" stroke="#333" stroke-width="0.8"/>
<line x1="337.7" y1="49.81" x2="335.2" y2="49.81" stroke="#333" stroke-width="0.8"/>
<line x1="190.9" y1="46.84" x2="192.4" y2="46.84" stroke="#333" stroke-width="0.8"/>
<line x1="337.7" y1="46.84" x2="336.2" y2="46.84" stroke="#333" stroke-width="0.8"/>
<line x1="190.9" y1="43.95" x2="192.4" y2="43.95" stroke="#333" stroke-width="0.8"/>
<line x1="337.7" y1="43.95" x2="336.2" y2="43.95" stroke="#333" stroke-width="0.8"/>
<line x1="190.9" y1="41.16" x2="192.4" y2="41.16" stroke="#333" stroke-width="0.8"/>
<line x1="337.7" y1="41.16" x2="336.2" y2="41.16" stroke="#333" stroke-width="0.8"/>
<line x1="190.9" y1="38.45" x2="192.4" y2="38.45" stroke="#333" stroke-width="0.8"/>
<line x1="337.7" y1="38.45" x2="336.2" y2="38.45" stroke="#333" stroke-width="0.8"/>
<line x1="190.9" y1="35.82" x2="192.4" y2="35.82" stroke="#333" stroke-width="0.8"/>
<line x1="337.7" y1="35.82" x2="336.2" y2="35.82" stroke="#333" stroke-width="0.8"/>
<line x1="190.9" y1="33.26" x2="192.4" y2="33.26" stroke="#333" stroke-width="0.8"/>
<line x1="337.7" y1="33.26" x2="336.2" y2="33.26" stroke="#333" stroke-width="0.8"/>
<line x1="190.9" y1="30.78" x2="192.4" y2="30.78" stroke="#333" stroke-width="0.8"/>
<line x1="337.7" y1="30.78" x2="336.2" y2="30.78" stroke="#333" stroke-width="0.8"/>
<line x1="190.9" y1="28.36" x2="192.4" y2="28.36" stroke="#333" stroke-width="0.8"/>
<line x1="337.7" y1="28.36" x2="336.2" y2="28.36" stroke="#333" stroke-width="0.8"/>
<line x1="190.9" y1="26.00" x2="192.4" y2="26.00" stroke="#333" stroke-width="0.8"/>
<line x1="337.7" y1="26.00" x2="336.2" y2="26.00" stroke="#333" stroke-width="0.8"/>
<line x1="190.9" y1="23.70" x2="193.4" y2="23.70" stroke="#333" stroke-width="0.8"/>
<line x1="337.7" y1="23.70" x2="335.2" y2="23.70" stroke="#333" stroke-width="0.8"/>
<line x1="190.9" y1="21.46" x2="192.4" y2="21.46" stroke="#333" stroke-width="0.8"/>
<line x1="337.7" y1="21.46" x2="336.2" y2="21.46" stroke="#333" stroke-width="0.8"/>
<line x1="190.9" y1="19.27" x2="192.4" y2="19.27" stroke="#333" stroke-width="0.8"/>
<line x1="337.7" y1="19.27" x2="336.2" y2="19.27" stroke="#333" stroke-width="0.8"/>
<line x1="190.9" y1="17.14" x2="192.4" y2="17.14" stroke="#333" stroke-width="0.8"/>
<line x1="337.7" y1="17.14" x2="336.2" y2="17.14" stroke="#333" stroke-width="0.8"/>
<rect x="190.9" y="15.3" width="146.79999999999998" height="124.2" fill="none" stroke="#333" stroke-width="0.9"/>
<text x="193.6" y="148.6" font-family='"Liberation Serif", serif' font-size="7.6" text-anchor="middle" >0.0</text>
<text x="220.6" y="148.6" font-family='"Liberation Serif", serif' font-size="7.6" text-anchor="middle" >0.2</text>
<text x="247.7" y="148.6" font-family='"Liberation Serif", serif' font-size="7.6" text-anchor="middle" >0.4</text>
<text x="274.7" y="148.6" font-family='"Liberation Serif", serif' font-size="7.6" text-anchor="middle" >0.6</text>
<text x="301.8" y="148.6" font-family='"Liberation Serif", serif' font-size="7.6" text-anchor="middle" >0.8</text>
<text x="328.8" y="148.6" font-family='"Liberation Serif", serif' font-size="7.6" text-anchor="middle" >1.0</text>
<text x="171.8" y="26.9" font-family='"Liberation Serif", serif' font-size="7.4" text-anchor="start" >4x10</text>
<text x="186.7" y="22.7" font-family='"Liberation Serif", serif' font-size="4.6" text-anchor="start" >6</text>
<text x="171.8" y="53.012195951134686" font-family='"Liberation Serif", serif' font-size="7.4" text-anchor="start" >3x10</text>
<text x="186.7" y="48.81219595113468" font-family='"Liberation Serif", serif' font-size="4.6" text-anchor="start" >6</text>
<text x="171.8" y="89.81526909377209" font-family='"Liberation Serif", serif' font-size="7.4" text-anchor="start" >2x10</text>
<text x="186.7" y="85.61526909377208" font-family='"Liberation Serif", serif' font-size="4.6" text-anchor="start" >6</text>
<text transform="translate(165.7,105.7) rotate(-90) scale(0.93,1)" font-family='"Liberation Serif", serif' font-size="10.6"><tspan font-style="italic">J</tspan><tspan font-size="6.5" dy="3">c</tspan><tspan dy="-3"> (A/cm</tspan><tspan font-size="6.5" dy="-5.5">2</tspan><tspan dy="5.5">)</tspan></text>
<text x="252" y="163.1" font-family='"Liberation Serif", serif' font-size="9.2">μ<tspan font-size="6" dy="2">0</tspan><tspan dy="-2">H(T)</tspan></text>
<line x1="85.00" y1="587.30" x2="85.00" y2="582.30" stroke="#1a1a1a" stroke-width="1.1"/>
<line x1="85.00" y1="317.70" x2="85.00" y2="322.70" stroke="#1a1a1a" stroke-width="1.1"/>
<line x1="122.25" y1="587.30" x2="122.25" y2="584.50" stroke="#1a1a1a" stroke-width="1.1"/>
<line x1="122.25" y1="317.70" x2="122.25" y2="320.50" stroke="#1a1a1a" stroke-width="1.1"/>
<line x1="159.50" y1="587.30" x2="159.50" y2="582.30" stroke="#1a1a1a" stroke-width="1.1"/>
<line x1="159.50" y1="317.70" x2="159.50" y2="322.70" stroke="#1a1a1a" stroke-width="1.1"/>
<line x1="196.75" y1="587.30" x2="196.75" y2="584.50" stroke="#1a1a1a" stroke-width="1.1"/>
<line x1="196.75" y1="317.70" x2="196.75" y2="320.50" stroke="#1a1a1a" stroke-width="1.1"/>
<line x1="234.00" y1="587.30" x2="234.00" y2="582.30" stroke="#1a1a1a" stroke-width="1.1"/>
<line x1="234.00" y1="317.70" x2="234.00" y2="322.70" stroke="#1a1a1a" stroke-width="1.1"/>
<line x1="271.25" y1="587.30" x2="271.25" y2="584.50" stroke="#1a1a1a" stroke-width="1.1"/>
<line x1="271.25" y1="317.70" x2="271.25" y2="320.50" stroke="#1a1a1a" stroke-width="1.1"/>
<line x1="308.50" y1="587.30" x2="308.50" y2="582.30" stroke="#1a1a1a" stroke-width="1.1"/>
<line x1="308.50" y1="317.70" x2="308.50" y2="322.70" stroke="#1a1a1a" stroke-width="1.1"/>
<line x1="47.50" y1="556.01" x2="50.00" y2="556.01" stroke="#1a1a1a" stroke-width="1.1"/>
<line x1="345.70" y1="556.01" x2="343.20" y2="556.01" stroke="#1a1a1a" stroke-width="1.1"/>
<line x1="47.50" y1="537.77" x2="50.00" y2="537.77" stroke="#1a1a1a" stroke-width="1.1"/>
<line x1="345.70" y1="537.77" x2="343.20" y2="537.77" stroke="#1a1a1a" stroke-width="1.1"/>
<line x1="47.50" y1="524.83" x2="50.00" y2="524.83" stroke="#1a1a1a" stroke-width="1.1"/>
<line x1="345.70" y1="524.83" x2="343.20" y2="524.83" stroke="#1a1a1a" stroke-width="1.1"/>
<line x1="47.50" y1="514.79" x2="50.00" y2="514.79" stroke="#1a1a1a" stroke-width="1.1"/>
<line x1="345.70" y1="514.79" x2="343.20" y2="514.79" stroke="#1a1a1a" stroke-width="1.1"/>
<line x1="47.50" y1="506.58" x2="50.00" y2="506.58" stroke="#1a1a1a" stroke-width="1.1"/>
<line x1="345.70" y1="506.58" x2="343.20" y2="506.58" stroke="#1a1a1a" stroke-width="1.1"/>
<line x1="47.50" y1="499.65" x2="50.00" y2="499.65" stroke="#1a1a1a" stroke-width="1.1"/>
<line x1="345.70" y1="499.65" x2="343.20" y2="499.65" stroke="#1a1a1a" stroke-width="1.1"/>
<line x1="47.50" y1="493.64" x2="50.00" y2="493.64" stroke="#1a1a1a" stroke-width="1.1"/>
<line x1="345.70" y1="493.64" x2="343.20" y2="493.64" stroke="#1a1a1a" stroke-width="1.1"/>
<line x1="47.50" y1="488.34" x2="50.00" y2="488.34" stroke="#1a1a1a" stroke-width="1.1"/>
<line x1="345.70" y1="488.34" x2="343.20" y2="488.34" stroke="#1a1a1a" stroke-width="1.1"/>
<line x1="47.50" y1="483.60" x2="52.50" y2="483.60" stroke="#1a1a1a" stroke-width="1.1"/>
<line x1="345.70" y1="483.60" x2="340.70" y2="483.60" stroke="#1a1a1a" stroke-width="1.1"/>
<line x1="47.50" y1="483.60" x2="52.50" y2="483.60" stroke="#1a1a1a" stroke-width="1.1"/>
<line x1="345.70" y1="483.60" x2="340.70" y2="483.60" stroke="#1a1a1a" stroke-width="1.1"/>
<line x1="47.50" y1="452.41" x2="50.00" y2="452.41" stroke="#1a1a1a" stroke-width="1.1"/>
<line x1="345.70" y1="452.41" x2="343.20" y2="452.41" stroke="#1a1a1a" stroke-width="1.1"/>
<line x1="47.50" y1="434.17" x2="50.00" y2="434.17" stroke="#1a1a1a" stroke-width="1.1"/>
<line x1="345.70" y1="434.17" x2="343.20" y2="434.17" stroke="#1a1a1a" stroke-width="1.1"/>
<line x1="47.50" y1="421.23" x2="50.00" y2="421.23" stroke="#1a1a1a" stroke-width="1.1"/>
<line x1="345.70" y1="421.23" x2="343.20" y2="421.23" stroke="#1a1a1a" stroke-width="1.1"/>
<line x1="47.50" y1="411.19" x2="50.00" y2="411.19" stroke="#1a1a1a" stroke-width="1.1"/>
<line x1="345.70" y1="411.19" x2="343.20" y2="411.19" stroke="#1a1a1a" stroke-width="1.1"/>
<line x1="47.50" y1="402.98" x2="50.00" y2="402.98" stroke="#1a1a1a" stroke-width="1.1"/>
<line x1="345.70" y1="402.98" x2="343.20" y2="402.98" stroke="#1a1a1a" stroke-width="1.1"/>
<line x1="47.50" y1="396.05" x2="50.00" y2="396.05" stroke="#1a1a1a" stroke-width="1.1"/>
<line x1="345.70" y1="396.05" x2="343.20" y2="396.05" stroke="#1a1a1a" stroke-width="1.1"/>
<line x1="47.50" y1="390.04" x2="50.00" y2="390.04" stroke="#1a1a1a" stroke-width="1.1"/>
<line x1="345.70" y1="390.04" x2="343.20" y2="390.04" stroke="#1a1a1a" stroke-width="1.1"/>
<line x1="47.50" y1="384.74" x2="50.00" y2="384.74" stroke="#1a1a1a" stroke-width="1.1"/>
<line x1="345.70" y1="384.74" x2="343.20" y2="384.74" stroke="#1a1a1a" stroke-width="1.1"/>
<line x1="47.50" y1="380.00" x2="52.50" y2="380.00" stroke="#1a1a1a" stroke-width="1.1"/>
<line x1="345.70" y1="380.00" x2="340.70" y2="380.00" stroke="#1a1a1a" stroke-width="1.1"/>
<line x1="47.50" y1="380.00" x2="52.50" y2="380.00" stroke="#1a1a1a" stroke-width="1.1"/>
<line x1="345.70" y1="380.00" x2="340.70" y2="380.00" stroke="#1a1a1a" stroke-width="1.1"/>
<line x1="47.50" y1="348.81" x2="50.00" y2="348.81" stroke="#1a1a1a" stroke-width="1.1"/>
<line x1="345.70" y1="348.81" x2="343.20" y2="348.81" stroke="#1a1a1a" stroke-width="1.1"/>
<line x1="47.50" y1="330.57" x2="50.00" y2="330.57" stroke="#1a1a1a" stroke-width="1.1"/>
<line x1="345.70" y1="330.57" x2="343.20" y2="330.57" stroke="#1a1a1a" stroke-width="1.1"/>
<rect x="47.5" y="317.7" width="298.2" height="269.59999999999997" fill="none" stroke="#1a1a1a" stroke-width="1.4"/>
<text transform="translate(85.0,605.5) scale(1.05,1.2)" font-family='"Liberation Serif", serif' font-size="13" text-anchor="middle">0</text>
<text transform="translate(159.5,605.5) scale(1.05,1.2)" font-family='"Liberation Serif", serif' font-size="13" text-anchor="middle">1</text>
<text transform="translate(234.0,605.5) scale(1.05,1.2)" font-family='"Liberation Serif", serif' font-size="13" text-anchor="middle">2</text>
<text transform="translate(308.5,605.5) scale(1.05,1.2)" font-family='"Liberation Serif", serif' font-size="13" text-anchor="middle">3</text>
<text transform="translate(25.3,386.6) scale(0.92,1.24)" font-family='"Liberation Serif", serif' font-size="13">10</text>
<text transform="translate(37.8,378.3) scale(0.95,1.1)" font-family='"Liberation Serif", serif' font-size="8.5">6</text>
<text transform="translate(25.3,490.0) scale(0.92,1.24)" font-family='"Liberation Serif", serif' font-size="13">10</text>
<text transform="translate(37.8,481.7) scale(0.95,1.1)" font-family='"Liberation Serif", serif' font-size="8.5">5</text>
<text transform="translate(25.3,593.9) scale(0.92,1.24)" font-family='"Liberation Serif", serif' font-size="13">10</text>
<text transform="translate(37.8,585.6) scale(0.95,1.1)" font-family='"Liberation Serif", serif' font-size="8.5">4</text>
<text transform="translate(14.9,486.8) rotate(-90) scale(1.07,1)" font-family='"Liberation Serif", serif' font-size="15"><tspan font-style="italic">J</tspan><tspan font-size="10" dy="4.6">c</tspan><tspan dy="-4.6"> (A/cm</tspan><tspan font-size="10" dy="-7.3">2</tspan><tspan dy="7.3">)</tspan></text>
<text x="178.6" y="632.2" font-family='"Liberation Serif", serif' font-size="15">μH(T)</text>
<text transform="translate(72,556.6) scale(1,1.06)" font-family='"Liberation Sans", sans-serif' font-size="14">(b)</text>
<text transform="translate(271.2,448.6) scale(1,1.05)" font-family='"Liberation Sans", sans-serif' font-size="13.8">H//c</text>
<text transform="translate(107.5,484.1) scale(1,1.05)" font-family='"Liberation Sans", sans-serif' font-size="13.5">77.3K</text>
<clipPath id="bclip"><rect x="47.5" y="317.7" width="302.5" height="269.59999999999997"/></clipPath>
<g clip-path="url(#bclip)">
<path d="M86.91,366.05L90.54,373.35M94.68,380.88L97.67,385.82M103.03,392.44L104.22,393.56M110.32,399.61L111.83,401.19M118.30,406.79L118.75,407.11M133.18,417.32L133.67,417.68M140.61,422.75L141.14,423.15M147.99,428.34L148.66,428.86M155.53,434.02L156.02,434.38M177.91,449.68L200.69,465.82M207.73,470.75L230.47,486.55M237.63,491.31L260.17,505.69M266.81,511.08L290.59,535.42M296.52,541.66L320.48,567.54" fill="none" stroke="#666" stroke-width="1.15"/>
<path d="M86.87,371.47L90.58,379.13M95.12,386.37L97.23,389.03M103.14,395.23L104.11,396.07M110.59,401.73L111.56,402.57M118.19,408.04L118.86,408.56M133.09,418.94L133.76,419.46M155.51,434.05L156.04,434.45M178.01,448.34L200.59,462.96M207.69,467.81L230.51,484.19M237.63,489.00L260.17,503.30M267.09,508.37L290.31,527.93M297.06,533.25L319.94,550.15" fill="none" stroke="#666" stroke-width="1.15"/>
<path d="M87.02,379.30L90.43,385.70M95.02,392.95L97.33,396.05M102.95,402.53L104.30,403.87M110.61,409.70L111.54,410.50M118.04,416.13L119.01,416.97M125.71,422.35L126.24,422.75M133.12,427.91L133.73,428.39M147.99,438.44L148.66,438.96M177.83,457.09L200.77,474.41M208.07,478.87L230.13,489.53M237.66,493.65L260.14,507.45M267.02,512.55L290.38,533.25M297.04,538.68L319.96,555.92" fill="none" stroke="#666" stroke-width="1.15"/>
<path d="M86.63,367.18L90.82,377.42M95.56,384.37L96.79,385.53M178.29,428.03L200.31,438.37M207.90,442.39L230.30,455.61M238.01,459.35L259.79,467.75M267.59,471.33L289.81,483.27M296.79,488.18L320.21,509.32M327.16,514.28L348.24,525.92" fill="none" stroke="#666" stroke-width="1.15"/>
<path d="M85.00,358.35L88.80,365.35L81.20,365.35Z" fill="#0000ff"/>
<path d="M92.45,373.35L96.25,380.35L88.65,380.35Z" fill="#0000ff"/>
<path d="M99.90,385.65L103.70,392.65L96.10,392.65Z" fill="#0000ff"/>
<path d="M107.35,392.65L111.15,399.65L103.55,399.65Z" fill="#0000ff"/>
<path d="M114.80,400.45L118.60,407.45L111.00,407.45Z" fill="#0000ff"/>
<path d="M122.25,405.75L126.05,412.75L118.45,412.75Z" fill="#0000ff"/>
<path d="M129.70,410.95L133.50,417.95L125.90,417.95Z" fill="#0000ff"/>
<path d="M137.15,416.35L140.95,423.35L133.35,423.35Z" fill="#0000ff"/>
<path d="M144.60,421.85L148.40,428.85L140.80,428.85Z" fill="#0000ff"/>
<path d="M152.05,427.65L155.85,434.65L148.25,434.65Z" fill="#0000ff"/>
<path d="M159.50,433.05L163.30,440.05L155.70,440.05Z" fill="#0000ff"/>
<path d="M166.95,438.15L170.75,445.15L163.15,445.15Z" fill="#0000ff"/>
<path d="M174.40,443.35L178.20,450.35L170.60,450.35Z" fill="#0000ff"/>
<path d="M204.20,464.45L208.00,471.45L200.40,471.45Z" fill="#0000ff"/>
<path d="M234.00,485.15L237.80,492.15L230.20,492.15Z" fill="#0000ff"/>
<path d="M263.80,504.15L267.60,511.15L260.00,511.15Z" fill="#0000ff"/>
<path d="M293.60,534.65L297.40,541.65L289.80,541.65Z" fill="#0000ff"/>
<path d="M323.40,566.85L327.20,573.85L319.60,573.85Z" fill="#0000ff"/>
<polygon points="85.00,363.85 86.10,366.24 88.71,366.54 86.78,368.33 87.29,370.91 85.00,369.62 82.71,370.91 83.22,368.33 81.29,366.54 83.90,366.24" fill="#ff00ff"/>
<polygon points="92.45,379.25 93.55,381.64 96.16,381.94 94.23,383.73 94.74,386.31 92.45,385.02 90.16,386.31 90.67,383.73 88.74,381.94 91.35,381.64" fill="#ff00ff"/>
<polygon points="99.90,388.65 101.00,391.04 103.61,391.34 101.68,393.13 102.19,395.71 99.90,394.42 97.61,395.71 98.12,393.13 96.19,391.34 98.80,391.04" fill="#ff00ff"/>
<polygon points="107.35,395.15 108.45,397.54 111.06,397.84 109.13,399.63 109.64,402.21 107.35,400.92 105.06,402.21 105.57,399.63 103.64,397.84 106.25,397.54" fill="#ff00ff"/>
<polygon points="114.80,401.65 115.90,404.04 118.51,404.34 116.58,406.13 117.09,408.71 114.80,407.42 112.51,408.71 113.02,406.13 111.09,404.34 113.70,404.04" fill="#ff00ff"/>
<polygon points="122.25,407.45 123.35,409.84 125.96,410.14 124.03,411.93 124.54,414.51 122.25,413.22 119.96,414.51 120.47,411.93 118.54,410.14 121.15,409.84" fill="#ff00ff"/>
<polygon points="129.70,412.55 130.80,414.94 133.41,415.24 131.48,417.03 131.99,419.61 129.70,418.32 127.41,419.61 127.92,417.03 125.99,415.24 128.60,414.94" fill="#ff00ff"/>
<polygon points="137.15,418.35 138.25,420.74 140.86,421.04 138.93,422.83 139.44,425.41 137.15,424.12 134.86,425.41 135.37,422.83 133.44,421.04 136.05,420.74" fill="#ff00ff"/>
<polygon points="144.60,422.95 145.70,425.34 148.31,425.64 146.38,427.43 146.89,430.01 144.60,428.72 142.31,430.01 142.82,427.43 140.89,425.64 143.50,425.34" fill="#ff00ff"/>
<polygon points="152.05,427.75 153.15,430.14 155.76,430.44 153.83,432.23 154.34,434.81 152.05,433.52 149.76,434.81 150.27,432.23 148.34,430.44 150.95,430.14" fill="#ff00ff"/>
<polygon points="159.50,433.25 160.60,435.64 163.21,435.94 161.28,437.73 161.79,440.31 159.50,439.02 157.21,440.31 157.72,437.73 155.79,435.94 158.40,435.64" fill="#ff00ff"/>
<polygon points="166.95,437.85 168.05,440.24 170.66,440.54 168.73,442.33 169.24,444.91 166.95,443.62 164.66,444.91 165.17,442.33 163.24,440.54 165.85,440.24" fill="#ff00ff"/>
<polygon points="174.40,442.25 175.50,444.64 178.11,444.94 176.18,446.73 176.69,449.31 174.40,448.02 172.11,449.31 172.62,446.73 170.69,444.94 173.30,444.64" fill="#ff00ff"/>
<polygon points="204.20,461.55 205.30,463.94 207.91,464.24 205.98,466.03 206.49,468.61 204.20,467.32 201.91,468.61 202.42,466.03 200.49,464.24 203.10,463.94" fill="#ff00ff"/>
<polygon points="234.00,482.95 235.10,485.34 237.71,485.64 235.78,487.43 236.29,490.01 234.00,488.72 231.71,490.01 232.22,487.43 230.29,485.64 232.90,485.34" fill="#ff00ff"/>
<polygon points="263.80,501.85 264.90,504.24 267.51,504.54 265.58,506.33 266.09,508.91 263.80,507.62 261.51,508.91 262.02,506.33 260.09,504.54 262.70,504.24" fill="#ff00ff"/>
<polygon points="293.60,526.95 294.70,529.34 297.31,529.64 295.38,531.43 295.89,534.01 293.60,532.72 291.31,534.01 291.82,531.43 289.89,529.64 292.50,529.34" fill="#ff00ff"/>
<polygon points="323.40,548.95 324.50,551.34 327.11,551.64 325.18,553.43 325.69,556.01 323.40,554.72 321.11,556.01 321.62,553.43 319.69,551.64 322.30,551.34" fill="#ff00ff"/>
<circle cx="85.00" cy="375.50" r="3.3" fill="url(#sph)"/>
<circle cx="92.45" cy="389.50" r="3.3" fill="url(#sph)"/>
<circle cx="99.90" cy="399.50" r="3.3" fill="url(#sph)"/>
<circle cx="107.35" cy="406.90" r="3.3" fill="url(#sph)"/>
<circle cx="114.80" cy="413.30" r="3.3" fill="url(#sph)"/>
<circle cx="122.25" cy="419.80" r="3.3" fill="url(#sph)"/>
<circle cx="129.70" cy="425.30" r="3.3" fill="url(#sph)"/>
<circle cx="137.15" cy="431.00" r="3.3" fill="url(#sph)"/>
<circle cx="144.60" cy="435.80" r="3.3" fill="url(#sph)"/>
<circle cx="152.05" cy="441.60" r="3.3" fill="url(#sph)"/>
<circle cx="159.50" cy="445.60" r="3.3" fill="url(#sph)"/>
<circle cx="166.95" cy="450.20" r="3.3" fill="url(#sph)"/>
<circle cx="174.40" cy="454.50" r="3.3" fill="url(#sph)"/>
<circle cx="204.20" cy="477.00" r="3.3" fill="url(#sph)"/>
<circle cx="234.00" cy="491.40" r="3.3" fill="url(#sph)"/>
<circle cx="263.80" cy="509.70" r="3.3" fill="url(#sph)"/>
<circle cx="293.60" cy="536.10" r="3.3" fill="url(#sph)"/>
<circle cx="323.40" cy="558.50" r="3.3" fill="url(#sph)"/>
<polygon points="85.00,360.20 87.60,361.70 87.60,364.70 85.00,366.20 82.40,364.70 82.40,361.70" fill="#fff" stroke="#8b0000" stroke-width="1.2"/><polygon points="85.00,360.20 87.60,361.70 87.60,364.70 85.00,366.20" fill="#8b0000"/>
<polygon points="92.45,378.40 95.05,379.90 95.05,382.90 92.45,384.40 89.85,382.90 89.85,379.90" fill="#fff" stroke="#8b0000" stroke-width="1.2"/><polygon points="92.45,378.40 95.05,379.90 95.05,382.90 92.45,384.40" fill="#8b0000"/>
<polygon points="99.90,385.50 102.50,387.00 102.50,390.00 99.90,391.50 97.30,390.00 97.30,387.00" fill="#fff" stroke="#8b0000" stroke-width="1.2"/><polygon points="99.90,385.50 102.50,387.00 102.50,390.00 99.90,391.50" fill="#8b0000"/>
<polygon points="107.35,389.90 109.95,391.40 109.95,394.40 107.35,395.90 104.75,394.40 104.75,391.40" fill="#fff" stroke="#8b0000" stroke-width="1.2"/><polygon points="107.35,389.90 109.95,391.40 109.95,394.40 107.35,395.90" fill="#8b0000"/>
<polygon points="114.80,394.10 117.40,395.60 117.40,398.60 114.80,400.10 112.20,398.60 112.20,395.60" fill="#fff" stroke="#8b0000" stroke-width="1.2"/><polygon points="114.80,394.10 117.40,395.60 117.40,398.60 114.80,400.10" fill="#8b0000"/>
<polygon points="122.25,397.60 124.85,399.10 124.85,402.10 122.25,403.60 119.65,402.10 119.65,399.10" fill="#fff" stroke="#8b0000" stroke-width="1.2"/><polygon points="122.25,397.60 124.85,399.10 124.85,402.10 122.25,403.60" fill="#8b0000"/>
<polygon points="129.70,401.00 132.30,402.50 132.30,405.50 129.70,407.00 127.10,405.50 127.10,402.50" fill="#fff" stroke="#8b0000" stroke-width="1.2"/><polygon points="129.70,401.00 132.30,402.50 132.30,405.50 129.70,407.00" fill="#8b0000"/>
<polygon points="137.15,404.90 139.75,406.40 139.75,409.40 137.15,410.90 134.55,409.40 134.55,406.40" fill="#fff" stroke="#8b0000" stroke-width="1.2"/><polygon points="137.15,404.90 139.75,406.40 139.75,409.40 137.15,410.90" fill="#8b0000"/>
<polygon points="144.60,409.10 147.20,410.60 147.20,413.60 144.60,415.10 142.00,413.60 142.00,410.60" fill="#fff" stroke="#8b0000" stroke-width="1.2"/><polygon points="144.60,409.10 147.20,410.60 147.20,413.60 144.60,415.10" fill="#8b0000"/>
<polygon points="152.05,412.60 154.65,414.10 154.65,417.10 152.05,418.60 149.45,417.10 149.45,414.10" fill="#fff" stroke="#8b0000" stroke-width="1.2"/><polygon points="152.05,412.60 154.65,414.10 154.65,417.10 152.05,418.60" fill="#8b0000"/>
<polygon points="159.50,416.30 162.10,417.80 162.10,420.80 159.50,422.30 156.90,420.80 156.90,417.80" fill="#fff" stroke="#8b0000" stroke-width="1.2"/><polygon points="159.50,416.30 162.10,417.80 162.10,420.80 159.50,422.30" fill="#8b0000"/>
<polygon points="166.95,419.40 169.55,420.90 169.55,423.90 166.95,425.40 164.35,423.90 164.35,420.90" fill="#fff" stroke="#8b0000" stroke-width="1.2"/><polygon points="166.95,419.40 169.55,420.90 169.55,423.90 166.95,425.40" fill="#8b0000"/>
<polygon points="174.40,423.20 177.00,424.70 177.00,427.70 174.40,429.20 171.80,427.70 171.80,424.70" fill="#fff" stroke="#8b0000" stroke-width="1.2"/><polygon points="174.40,423.20 177.00,424.70 177.00,427.70 174.40,429.20" fill="#8b0000"/>
<polygon points="204.20,437.20 206.80,438.70 206.80,441.70 204.20,443.20 201.60,441.70 201.60,438.70" fill="#fff" stroke="#8b0000" stroke-width="1.2"/><polygon points="204.20,437.20 206.80,438.70 206.80,441.70 204.20,443.20" fill="#8b0000"/>
<polygon points="234.00,454.80 236.60,456.30 236.60,459.30 234.00,460.80 231.40,459.30 231.40,456.30" fill="#fff" stroke="#8b0000" stroke-width="1.2"/><polygon points="234.00,454.80 236.60,456.30 236.60,459.30 234.00,460.80" fill="#8b0000"/>
<polygon points="263.80,466.30 266.40,467.80 266.40,470.80 263.80,472.30 261.20,470.80 261.20,467.80" fill="#fff" stroke="#8b0000" stroke-width="1.2"/><polygon points="263.80,466.30 266.40,467.80 266.40,470.80 263.80,472.30" fill="#8b0000"/>
<polygon points="293.60,482.30 296.20,483.80 296.20,486.80 293.60,488.30 291.00,486.80 291.00,483.80" fill="#fff" stroke="#8b0000" stroke-width="1.2"/><polygon points="293.60,482.30 296.20,483.80 296.20,486.80 293.60,488.30" fill="#8b0000"/>
<polygon points="323.40,509.20 326.00,510.70 326.00,513.70 323.40,515.20 320.80,513.70 320.80,510.70" fill="#fff" stroke="#8b0000" stroke-width="1.2"/><polygon points="323.40,509.20 326.00,510.70 326.00,513.70 323.40,515.20" fill="#8b0000"/>
</g>
<path d="M124.8,328.80H135.8M144.2,328.80H155.1" stroke="#9a9a9a" stroke-width="1.4"/>
<path d="M140.00,324.95L143.80,331.95L136.20,331.95Z" fill="#0000ff"/>
<text x="159.6" y="333.6" font-family='"Liberation Sans", sans-serif' font-size="13" text-anchor="start" >S30</text>
<path d="M124.8,347.70H135.8M144.2,347.70H155.1" stroke="#9a9a9a" stroke-width="1.4"/>
<polygon points="140.00,343.95 141.10,346.34 143.71,346.64 141.78,348.43 142.29,351.01 140.00,349.72 137.71,351.01 138.22,348.43 136.29,346.64 138.90,346.34" fill="#ff00ff"/>
<text x="159.6" y="352.5" font-family='"Liberation Sans", sans-serif' font-size="13" text-anchor="start" >S45</text>
<path d="M124.8,366.60H135.8M144.2,366.60H155.1" stroke="#9a9a9a" stroke-width="1.4"/>
<circle cx="140.00" cy="366.60" r="3.3" fill="url(#sph)"/>
<text x="159.6" y="371.40000000000003" font-family='"Liberation Sans", sans-serif' font-size="13" text-anchor="start" >S15</text>
<path d="M124.8,385.50H135.8M144.2,385.50H155.1" stroke="#9a9a9a" stroke-width="1.4"/>
<polygon points="140.00,382.50 142.60,384.00 142.60,387.00 140.00,388.50 137.40,387.00 137.40,384.00" fill="#fff" stroke="#8b0000" stroke-width="1.2"/><polygon points="140.00,382.50 142.60,384.00 142.60,387.00 140.00,388.50" fill="#8b0000"/>
<text x="159.6" y="390.3" font-family='"Liberation Sans", sans-serif' font-size="13" text-anchor="start" >S0 <tspan font-size="14">(2<tspan font-family="Liberation Serif, serif">μ</tspan>m thick)</tspan></text>
</svg>
</body></html>
